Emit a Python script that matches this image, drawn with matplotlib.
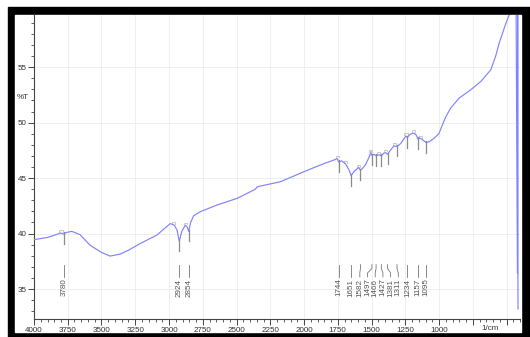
import matplotlib
matplotlib.use("Agg")
import matplotlib.pyplot as plt
import numpy as np
from matplotlib.patches import Rectangle
from matplotlib.ticker import MultipleLocator, FuncFormatter

plt.rcParams['font.family'] = ['Liberation Sans Narrow', 'Liberation Sans', 'DejaVu Sans']

# Phổ FTIR: số sóng (1/cm) và độ truyền qua (%T)
wavenumber = [
    4000, 3900, 3800, 3780, 3760, 3720, 3659, 3585, 3500, 3436, 3362, 3300,
    3214, 3090, 2991, 2960, 2940, 2924, 2905, 2880, 2865, 2854, 2840, 2818,
    2769, 2645, 2496, 2360, 2348, 2323, 2175, 2002, 1854, 1767, 1754, 1744,
    1720, 1693, 1665, 1651, 1630, 1594, 1582, 1569, 1544, 1512, 1505, 1497,
    1480, 1466, 1445, 1427, 1410, 1396, 1381, 1360, 1335, 1311, 1285, 1245,
    1234, 1215, 1186, 1170, 1157, 1140, 1112, 1095, 1070, 1038, 1001, 951,
    914, 852, 766, 691, 617, 580, 556, 506, 474, 450, 430, 419, 417, 415,
]
transmittance = [
    39.45, 39.65, 40.05, 39.95, 40.1, 40.2, 39.9, 38.95, 38.3, 37.97, 38.15, 38.5,
    39.1, 39.86, 40.9, 40.75, 40.3, 39.3, 40.2, 40.75, 40.6, 40.2, 41.0, 41.6,
    41.97, 42.57, 43.17, 44.0, 44.2, 44.28, 44.67, 45.57, 46.3, 46.68, 46.77, 46.45,
    46.55, 46.3, 45.7, 45.2, 45.6, 45.96, 45.7, 45.85, 46.2, 47.05, 47.3, 47.05,
    47.15, 47.0, 47.1, 47.0, 47.25, 47.3, 47.15, 47.5, 47.9, 47.85, 48.1, 48.8,
    48.65, 48.95, 49.05, 48.9, 48.55, 48.6, 48.36, 48.2, 48.3, 48.57, 49.0, 50.5,
    51.3, 52.2, 52.95, 53.7, 54.75, 56.0, 57.1, 58.9, 59.9, 61.5, 63.0, 36.4, 63.0, 33.2,
]

# Các đỉnh hấp thụ được đánh dấu
peaks = [3780, 2924, 2854, 1744, 1651, 1582, 1497, 1466, 1427, 1381, 1311, 1234, 1157, 1095]

x_ticks = [4000, 3750, 3500, 3250, 3000, 2750, 2500, 2250, 2000, 1750, 1500, 1250, 1000]


def spread(pos, gap):
    # dàn nhãn ra để không chồng lên nhau
    pos = list(pos)
    for _ in range(300):
        for i in range(len(pos) - 1):
            d = pos[i] - pos[i + 1]
            if d < gap:
                s = (gap - d) / 2
                pos[i] += s
                pos[i + 1] -= s
    return pos


W, H = 530, 337
fig = plt.figure(figsize=(W / 100, H / 100), dpi=100)
fig.patch.set_facecolor('white')

# khung đen bao quanh
fig.patches.append(Rectangle((8 / W, 0), 1 - 8 / W, (H - 7) / H,
                             transform=fig.transFigure, color='black', zorder=-2))
fig.patches.append(Rectangle((15 / W, 5 / H), (521 - 15) / W, (322 - 5) / H,
                             transform=fig.transFigure, color='white', zorder=-1))

ax = fig.add_axes([34 / W, 18 / H, 486 / W, 304 / H])
ax.set_zorder(1)
ax.set_facecolor('white')

wn = np.array(wavenumber, dtype=float)
tr = np.array(transmittance, dtype=float)
ax.plot(wn, tr, color='#8282ff', lw=0.85, zorder=3)

ax.set_xlim(4000, 400)
ax.set_ylim(32.3, 59.7)

ax.xaxis.set_major_locator(MultipleLocator(250))
ax.xaxis.set_minor_locator(MultipleLocator(50))
ax.xaxis.set_major_formatter(FuncFormatter(lambda v, p: '%d' % v if v in x_ticks else ''))
ax.yaxis.set_major_locator(MultipleLocator(5))
ax.yaxis.set_minor_locator(MultipleLocator(1))

for s in ['top', 'right']:
    ax.spines[s].set_visible(False)
for s in ['left', 'bottom']:
    ax.spines[s].set_color('#444444')
    ax.spines[s].set_linewidth(0.8)

ax.tick_params(which='major', direction='out', length=4, width=0.7, color='#444444',
               labelsize=5.8, labelcolor='#333333', pad=1.5)
ax.tick_params(which='minor', direction='out', length=2.2, width=0.6, color='#444444')
ax.grid(which='major', color='#ededed', lw=0.6, zorder=0)

# nhãn trục
fig.text(17 / W, 1 - 97 / H, '%T', fontsize=5.8, color='#333333', ha='left', va='center')
ax.annotate('1/cm', xy=(620, 0), xycoords=('data', 'axes fraction'),
            xytext=(0, -4.4), textcoords='offset points',
            ha='center', va='top', fontsize=5.8, color='#333333')

# đánh dấu đỉnh trên phổ và nhãn bên dưới
order = np.argsort(wn)
label_pos = spread(peaks, 57)
for p, lp in zip(peaks, label_pos):
    t = np.interp(p, wn[order], tr[order])
    ax.plot([p, p], [t + 0.15, t - 0.9], color='#8a8a8a', lw=0.9, zorder=4)
    hx = np.linspace(p, p + 40, 9)
    hy = np.interp(hx, wn[order], tr[order])
    ht = hy.max() + 0.25
    hc = hx[np.argmax(hy)]
    ax.plot([hc - 12, hc - 12, hc + 12, hc + 12], [ht - 0.15, ht, ht, ht - 0.15],
            color='#cccccc', lw=0.8, zorder=2)
    ax.plot([p, p, lp, lp], [37.2, 36.85, 36.45, 36.1], color='#777777', lw=0.6)
    ax.text(lp, 35.95, str(p), rotation=90, ha='center', va='top',
            fontsize=5.8, color='#555555')

plt.savefig('out.png', dpi=100)
plt.close()
